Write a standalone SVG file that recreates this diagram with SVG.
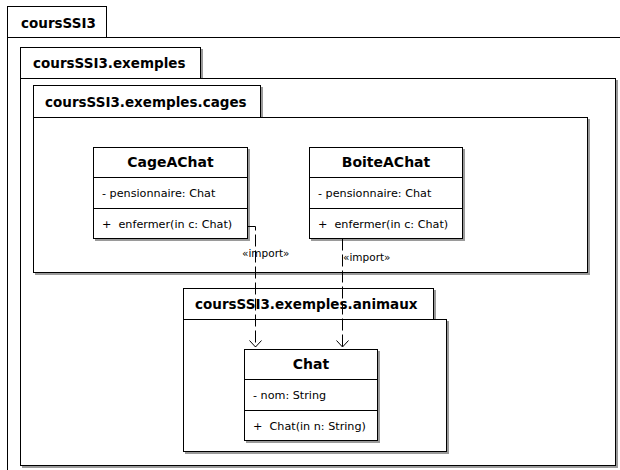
<svg xmlns="http://www.w3.org/2000/svg" width="620" height="470" viewBox="0 0 620 470">
<defs>
<style>
.box{fill:#fff;stroke:#000;stroke-width:1}
.sh{fill:#9a9a9a;stroke:none}
.pkg{font-family:"DejaVu Sans",sans-serif;font-weight:bold;font-size:13.5px;fill:#000}
.ttl{font-family:"DejaVu Sans",sans-serif;font-weight:bold;font-size:14px;fill:#000;text-anchor:middle}
.mem{font-family:"DejaVu Sans",sans-serif;font-size:11.2px;fill:#000;white-space:pre}
.lbl{font-family:"DejaVu Sans",sans-serif;font-size:10.5px;fill:#000}
.dep{fill:none;stroke:#000;stroke-width:1;stroke-dasharray:12,4}
</style>
<marker id="open" markerWidth="9" markerHeight="14" refX="7" refY="7" orient="auto" markerUnits="userSpaceOnUse">
<path d="M0.5,1 L7,7 L0.5,13" fill="none" stroke="#000" stroke-width="1"/>
</marker>
</defs>
<rect width="620" height="470" fill="#fff"/>

<g id="pkg-coursSSI3">
<rect class="box" x="7.5" y="37.5" width="700" height="500"/>
<rect class="box" x="7.5" y="6.5" width="99" height="31"/>
<text class="pkg" x="21" y="28">coursSSI3</text>
</g>

<g id="pkg-exemples">
<rect class="sh" x="22" y="80" width="596" height="388"/>
<rect class="sh" x="22" y="49" width="181" height="31"/>
<rect class="box" x="20.5" y="78.5" width="595" height="387"/>
<rect class="box" x="20.5" y="47.5" width="180" height="31"/>
<text class="pkg" x="33" y="68">coursSSI3.exemples</text>
</g>

<g id="pkg-cages">
<rect class="sh" x="35" y="119" width="555" height="156"/>
<rect class="sh" x="35" y="87" width="228" height="32"/>
<rect class="box" x="33.5" y="117.5" width="554" height="155"/>
<rect class="box" x="33.5" y="85.5" width="227" height="32"/>
<text class="pkg" x="45" y="107">coursSSI3.exemples.cages</text>
</g>

<g id="class-CageAChat">
<rect class="sh" x="95" y="149" width="155" height="92"/>
<rect class="box" x="93.5" y="147.5" width="154" height="91"/>
<line class="box" x1="93.5" y1="177.5" x2="247.5" y2="177.5"/>
<line class="box" x1="93.5" y1="208.5" x2="247.5" y2="208.5"/>
<text class="ttl" x="170.5" y="167">CageAChat</text>
<text class="mem" x="102" y="197">- pensionnaire: Chat</text>
<text class="mem" x="102" y="228">+  enfermer(in c: Chat)</text>
</g>

<g id="class-BoiteAChat">
<rect class="sh" x="311" y="149" width="154" height="92"/>
<rect class="box" x="309.5" y="147.5" width="153" height="91"/>
<line class="box" x1="309.5" y1="177.5" x2="462.5" y2="177.5"/>
<line class="box" x1="309.5" y1="208.5" x2="462.5" y2="208.5"/>
<text class="ttl" x="386" y="167">BoiteAChat</text>
<text class="mem" x="318" y="197">- pensionnaire: Chat</text>
<text class="mem" x="318" y="228">+  enfermer(in c: Chat)</text>
</g>

<g id="pkg-animaux">
<rect class="sh" x="185" y="321" width="264" height="133"/>
<rect class="sh" x="185" y="290" width="251" height="31"/>
<rect class="box" x="183.5" y="319.5" width="263" height="132"/>
<rect class="box" x="183.5" y="288.5" width="250" height="31"/>
<text class="pkg" x="195" y="309">coursSSI3.exemples.animaux</text>
</g>

<g id="class-Chat">
<rect class="sh" x="246" y="351" width="134" height="92"/>
<rect class="box" x="244.5" y="349.5" width="133" height="91"/>
<line class="box" x1="244.5" y1="379.5" x2="377.5" y2="379.5"/>
<line class="box" x1="244.5" y1="410.5" x2="377.5" y2="410.5"/>
<text class="ttl" x="311" y="369">Chat</text>
<text class="mem" x="253" y="399">- nom: String</text>
<text class="mem" x="253" y="430">+  Chat(in n: String)</text>
</g>

<g id="connectors">
<path class="dep" d="M247.5,226.5 H255.5 V347" marker-end="url(#open)"/>
<path class="dep" d="M342.5,238.5 V347" marker-end="url(#open)"/>
<text class="lbl" x="242" y="257">«import»</text>
<text class="lbl" x="343" y="261">«import»</text>
</g>
</svg>
